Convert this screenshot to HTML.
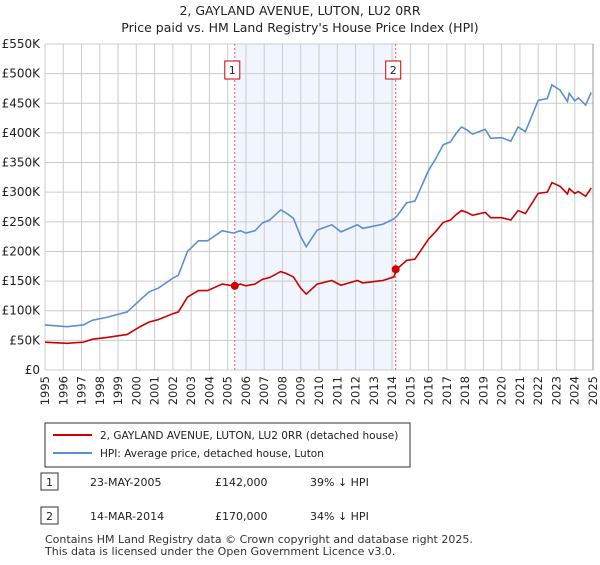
<!DOCTYPE html>
<html><head><meta charset="utf-8"><style>
body{margin:0;background:#fff;font-family:"Liberation Sans","DejaVu Sans",sans-serif;}
svg text{font-family:"DejaVu Sans","Liberation Sans",sans-serif;}
</style></head><body>
<svg id="c" width="600" height="560" viewBox="0 0 600 560" xmlns="http://www.w3.org/2000/svg">
<text x="300" y="15" text-anchor="middle" font-size="12.5" fill="#222">2, GAYLAND AVENUE, LUTON, LU2 0RR</text>
<text x="300" y="32" text-anchor="middle" font-size="12.5" fill="#222">Price paid vs. HM Land Registry's House Price Index (HPI)</text>
<g id="plot"></g>
<g>
<rect x="45" y="423" width="365" height="44" fill="#fff" stroke="#333" stroke-width="1"/>
<line x1="53" y1="435" x2="92" y2="435" stroke="#cc0000" stroke-width="2"/>
<text x="100" y="439" font-size="10.5" fill="#222">2, GAYLAND AVENUE, LUTON, LU2 0RR (detached house)</text>
<line x1="53" y1="453" x2="92" y2="453" stroke="#5b8fd4" stroke-width="2"/>
<text x="100" y="457" font-size="10.5" fill="#222">HPI: Average price, detached house, Luton</text>
</g>
<g>
<rect x="41" y="473" width="17" height="17" fill="#fff" stroke="#333"/>
<text x="49.5" y="486" text-anchor="middle" font-size="11" fill="#222">1</text>
<text x="90" y="486" font-size="11" fill="#222">23-MAY-2005</text>
<text x="215" y="486" font-size="11" fill="#222">£142,000</text>
<text x="310" y="486" font-size="11" fill="#222">39% ↓ HPI</text>
</g>
<g>
<rect x="41" y="507" width="17" height="17" fill="#fff" stroke="#333"/>
<text x="49.5" y="520" text-anchor="middle" font-size="11" fill="#222">2</text>
<text x="90" y="520" font-size="11" fill="#222">14-MAR-2014</text>
<text x="215" y="520" font-size="11" fill="#222">£170,000</text>
<text x="310" y="520" font-size="11" fill="#222">34% ↓ HPI</text>
</g>
<text x="45" y="543" font-size="11" fill="#333">Contains HM Land Registry data © Crown copyright and database right 2025.</text>
<text x="45" y="555" font-size="11" fill="#333">This data is licensed under the Open Government Licence v3.0.</text>
</svg>
<script>
const hpiDates=[1995.0,1996.2,1997.1,1997.6,1998.4,1999.5,2000.2,2000.7,2001.2,2002.0,2002.3,2002.8,2003.4,2003.9,2004.7,2005.3,2005.7,2006.0,2006.5,2006.9,2007.3,2007.9,2008.2,2008.6,2009.0,2009.3,2009.9,2010.7,2011.2,2012.1,2012.4,2013.5,2014.1,2014.25,2014.8,2015.25,2016.0,2016.4,2016.8,2017.2,2017.5,2017.8,2018.1,2018.4,2019.1,2019.4,2020.0,2020.5,2020.9,2021.3,2022.0,2022.5,2022.75,2023.2,2023.6,2023.7,2024.0,2024.2,2024.6,2024.9];
const hpiValues=[76,73,76,84,89,98,118,132,138,155,160,200,218,218,235,231,235,231,235,248,253,270,265,256,225,208,236,245,233,245,239,246,255,259,282,285,337,357,380,385,399,410,405,398,406,391,392,386,410,402,455,458,481,472,453,467,454,459,447,468];
const priceValues=[47,45,47,52,55,60,73,81,85,95,98,123,134,134,145,142,145,142,145,153,156,166,163,157,138,128,145,151,143,151,147,151,157,170,185,187,221,234,249,253,262,269,266,261,266,257,257,253,269,264,298,300,316,310,297,306,298,301,293,307];
const saleDates=[2005.39,2014.2];
const salePrices=[142,170];
const saleLabels=["1","2"];
const yTicks=[0,50,100,150,200,250,300,350,400,450,500,550];
const yTickLabels=["£0","£50K","£100K","£150K","£200K","£250K","£300K","£350K","£400K","£450K","£500K","£550K"];
const xTicks=[1995,1996,1997,1998,1999,2000,2001,2002,2003,2004,2005,2006,2007,2008,2009,2010,2011,2012,2013,2014,2015,2016,2017,2018,2019,2020,2021,2022,2023,2024,2025];

const X0=45,X1=593,Y0=370,Y1=44;
const xs=t=>X0+(t-1995)/30*(X1-X0);
const ys=v=>Y0-v/550*(Y0-Y1);
const NS="http://www.w3.org/2000/svg";
const g=document.getElementById('plot');
function mk(tag,attrs){const e=document.createElementNS(NS,tag);for(const k in attrs)e.setAttribute(k,attrs[k]);g.appendChild(e);return e;}

const shade=mk('rect',{x:xs(saleDates[0]),y:Y1,width:xs(saleDates[1])-xs(saleDates[0]),height:Y0-Y1,fill:'#eef3fc',opacity:0.8});


xTicks.forEach((t,i)=>{
  const l=mk('line',{x1:xs(t),x2:xs(t),y1:Y1,y2:Y0,stroke:'#ccc','stroke-width':1});
  
  
  const tx=mk('text',{x:0,y:0,'text-anchor':'end','font-size':11.5,fill:'#222',transform:'translate('+(xs(t)+4)+',376) rotate(-90)'});
  tx.textContent=t;
  
  
});
yTicks.forEach((v,i)=>{
  const l=mk('line',{x1:X0,x2:X1,y1:ys(v),y2:ys(v),stroke:'#ccc','stroke-width':1});
  
  
  const tx=mk('text',{x:40,y:ys(v)+4,'text-anchor':'end','font-size':12,fill:'#222'});
  tx.textContent=yTickLabels[i];
  
  
});
const rb=mk('line',{x1:X1,x2:X1,y1:Y1,y2:Y0,stroke:'#999','stroke-width':1});


saleDates.forEach((d,i)=>{
  const l=mk('line',{x1:xs(d),x2:xs(d),y1:Y1,y2:Y0,stroke:'#e06060','stroke-width':1,'stroke-dasharray':'2,2'});
  
  
  const b=mk('rect',{x:xs(d)-10,y:61,width:15,height:18,fill:'#fff',stroke:'#cc0000'});
  
  
  const tx=mk('text',{x:xs(d)-2.5,y:74,'text-anchor':'middle','font-size':11,fill:'#222'});
  tx.textContent=saleLabels[i];
  
  
});
const hp=mk('polyline',{points:hpiDates.map((d,i)=>xs(d)+','+ys(hpiValues[i])).join(' '),fill:'none',stroke:'#5b8fd4','stroke-width':1.6});


const pp=mk('polyline',{points:hpiDates.map((d,i)=>xs(d)+','+ys(priceValues[i])).join(' '),fill:'none',stroke:'#cc0000','stroke-width':1.6});


saleDates.forEach((d,i)=>{
  const c=mk('circle',{cx:xs(d),cy:ys(salePrices[i]),r:4,fill:'#cc0000'});
  
  
});
</script>
</body></html>
